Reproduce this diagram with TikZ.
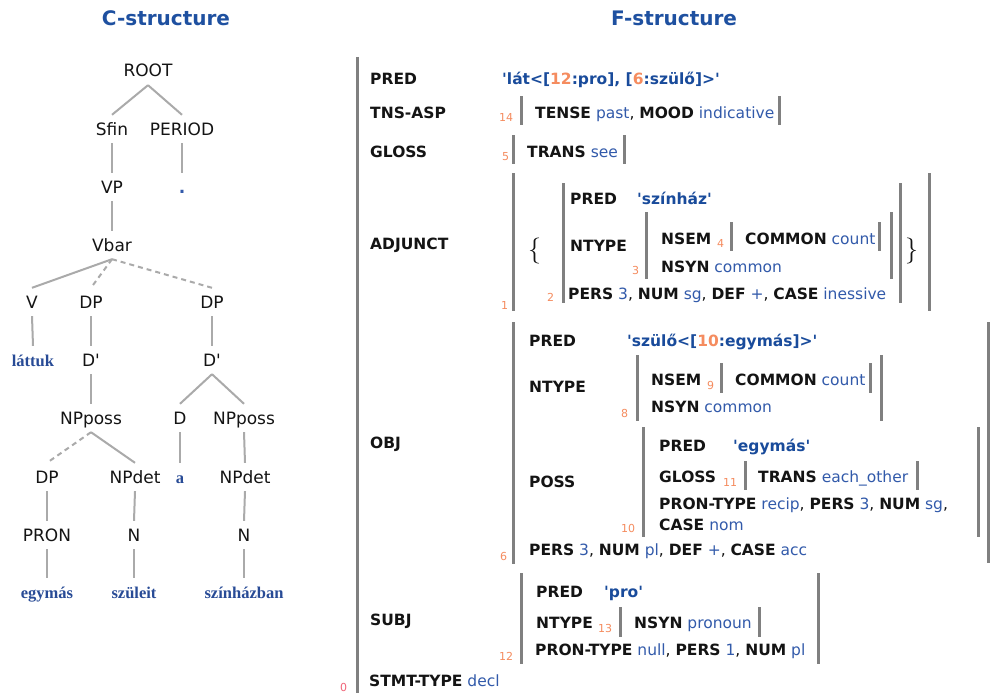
\documentclass[tikz,border=0pt]{standalone}
\usepackage{fontspec}
\usepackage{xcolor}
\newfontfamily\dvs{DejaVu Sans}
\newfontfamily\lserif{Liberation Serif}
\definecolor{titleblue}{RGB}{30,80,160}
\definecolor{predblue}{RGB}{25,75,155}
\definecolor{valblue}{RGB}{50,90,170}
\definecolor{wordblue}{RGB}{40,75,150}
\definecolor{idxorange}{RGB}{245,140,95}
\definecolor{zeropink}{RGB}{240,100,120}
\definecolor{bargray}{RGB}{128,128,128}
\definecolor{edgegray}{RGB}{170,170,170}
\definecolor{labelblack}{RGB}{20,20,20}
\newcommand\tfont{\dvs\fontsize{17}{19}\selectfont}
\newcommand\ffont{\dvs\fontsize{15.5}{18}\selectfont}
\newcommand\ifont{\dvs\fontsize{11}{12}\selectfont}
\newcommand\wfont{\lserif\bfseries\fontsize{16.5}{19}\selectfont}
\newcommand\K[1]{\textbf{#1}}
\newcommand\V[1]{\textcolor{valblue}{#1}}
\newcommand\Q{\textquotesingle}
\newcommand\IO[1]{\textcolor{idxorange}{#1}}
\tikzset{
  tl/.style={font=\tfont, text=labelblack, text height=12pt, text depth=0pt, inner ysep=8pt, inner xsep=0pt, anchor=base},
  tw/.style={tl, font=\wfont, text=wordblue},
  edge/.style={draw=edgegray, line width=2pt},
  dedge/.style={edge, dash pattern=on 5pt off 4pt},
  fl/.style={anchor=base west, inner sep=0pt, font=\ffont, text=labelblack},
  idx/.style={anchor=base west, inner sep=0pt, font=\ifont, text=idxorange},
  fbar/.style={draw=bargray, line width=3pt},
  ttl/.style={anchor=base, inner sep=0pt, font=\dvs\bfseries\fontsize{20}{24}\selectfont, text=titleblue},
  pv/.style={fl, text=predblue, font=\ffont\bfseries}
}
\begin{document}
\begin{tikzpicture}[x=1pt,y=-1pt]
\useasboundingbox[fill=white] (0,0) rectangle (992,693);
% titles
\node[ttl] (ctitle) at (166,26) {C-structure};
\node[ttl] (ftitle) at (674,26) {F-structure};
% ---------- C-structure tree ----------
\node[tl] (root) at (148,77) {ROOT};
\node[tl] (sfin) at (112,135) {Sfin};
\node[tl] (period) at (182,135) {PERIOD};
\node[tl] (vp) at (112,193) {VP};
\node[tl,text=valblue,font=\tfont\bfseries] (dot) at (182,193) {.};
\node[tl] (vbar) at (112,251) {Vbar};
\node[tl] (v) at (32,308) {V};
\node[tl] (dp1) at (91,308) {DP};
\node[tl] (dp2) at (212,308) {DP};
\node[tw] (lattuk) at (33,366) {láttuk};
\node[tl] (d1) at (91,366) {D\Q};
\node[tl] (d2) at (212,366) {D\Q};
\node[tl] (npp1) at (91,424) {NPposs};
\node[tl] (dd) at (180,424) {D};
\node[tl] (npp2) at (244,424) {NPposs};
\node[tl] (dp3) at (47,483) {DP};
\node[tl] (npd1) at (135,483) {NPdet};
\node[tw] (a) at (180,483) {a};
\node[tl] (npd2) at (245,483) {NPdet};
\node[tl] (pron) at (47,541) {PRON};
\node[tl] (n1) at (134,541) {N};
\node[tl] (n2) at (244,541) {N};
\node[tw] (egy) at (47,598) {egymás};
\node[tw] (szu) at (134,598) {szüleit};
\node[tw] (szi) at (244,598) {színházban};
\draw[edge] (root.south) -- (sfin.north);
\draw[edge] (root.south) -- (period.north);
\draw[edge] (sfin.south) -- (vp.north);
\draw[edge] (period.south) -- (dot.north);
\draw[edge] (vp.south) -- (vbar.north);
\draw[edge] (vbar.south) -- (v.north);
\draw[dedge] (vbar.south) -- (dp1.north);
\draw[dedge] (vbar.south) -- (dp2.north);
\draw[edge] (v.south) -- (lattuk.north);
\draw[edge] (dp1.south) -- (d1.north);
\draw[edge] (dp2.south) -- (d2.north);
\draw[edge] (d1.south) -- (npp1.north);
\draw[edge] (d2.south) -- (dd.north);
\draw[edge] (d2.south) -- (npp2.north);
\draw[dedge] (npp1.south) -- (dp3.north);
\draw[edge] (npp1.south) -- (npd1.north);
\draw[edge] (dd.south) -- (a.north);
\draw[edge] (npp2.south) -- (npd2.north);
\draw[edge] (dp3.south) -- (pron.north);
\draw[edge] (npd1.south) -- (n1.north);
\draw[edge] (npd2.south) -- (n2.north);
\draw[edge] (pron.south) -- (egy.north);
\draw[edge] (n1.south) -- (szu.north);
\draw[edge] (n2.south) -- (szi.north);
% ---------- F-structure ----------
\draw[fbar] (357,57) -- (357,693);
% PRED
\node[fl] (fpred) at (370,84) {\K{PRED}};
\node[pv] (fpredv) at (502,84) {\Q lát<[\IO{12}:pro], [\IO{6}:szülő]>\Q};
% TNS-ASP
\node[fl] (ftns) at (370,118) {\K{TNS-ASP}};
\node[idx] (i14) at (499,121) {14};
\draw[fbar] (521,96) -- (521,125);
\node[fl] (ftnsv) at (535,118) {\K{TENSE} \V{past}, \K{MOOD} \V{indicative}};
\draw[fbar] (779,96) -- (779,125);
% GLOSS
\node[fl] (fgloss) at (370,157) {\K{GLOSS}};
\node[idx] (i5) at (502,160) {5};
\draw[fbar] (513,135) -- (513,164);
\node[fl] (fglossv) at (527,157) {\K{TRANS} \V{see}};
\draw[fbar] (624,135) -- (624,164);
% ADJUNCT
\node[fl] (fadj) at (370,249) {\K{ADJUNCT}};
\node[idx] (i1) at (501,309) {1};
\draw[fbar] (513,173) -- (513,311);
\draw[fbar] (929,173) -- (929,311);
\node[anchor=base west, inner sep=0pt, font=\fontsize{26}{26}\selectfont, text=labelblack] (lbrace) at (528,257) {\{};
\node[anchor=base west, inner sep=0pt, font=\fontsize{26}{26}\selectfont, text=labelblack] (rbrace) at (905,257) {\}};
\draw[fbar] (563,183) -- (563,303);
\draw[fbar] (900,183) -- (900,303);
\node[fl] (apred) at (570,204) {\K{PRED}};
\node[pv] (apredv) at (637,204) {\Q színház\Q};
\node[fl] (antype) at (570,251) {\K{NTYPE}};
\node[idx] (i3) at (632,274) {3};
\draw[fbar] (646,212) -- (646,279);
\draw[fbar] (891,212) -- (891,279);
\node[fl] (ansem) at (661,244) {\K{NSEM}};
\node[idx] (i4) at (717,247) {4};
\draw[fbar] (731,222) -- (731,251);
\node[fl] (ansemv) at (745,244) {\K{COMMON} \V{count}};
\draw[fbar] (879,222) -- (879,251);
\node[fl] (ansyn) at (661,272) {\K{NSYN} \V{common}};
\node[idx] (i2) at (547,301) {2};
\node[fl] (apers) at (568,299) {\K{PERS} \V{3}, \K{NUM} \V{sg}, \K{DEF} \V{+}, \K{CASE} \V{inessive}};
% OBJ
\node[fl] (fobj) at (370,448) {\K{OBJ}};
\node[idx] (i6) at (500,560) {6};
\draw[fbar] (513,322) -- (513,564);
\draw[fbar] (988,322) -- (988,563);
\node[fl] (opred) at (529,346) {\K{PRED}};
\node[pv] (opredv) at (627,346) {\Q szülő<[\IO{10}:egymás]>\Q};
\node[fl] (ontype) at (529,392) {\K{NTYPE}};
\node[idx] (i8) at (621,417) {8};
\draw[fbar] (637,355) -- (637,421);
\draw[fbar] (881,355) -- (881,421);
\node[fl] (onsem) at (651,385) {\K{NSEM}};
\node[idx] (i9) at (707,389) {9};
\draw[fbar] (721,363) -- (721,393);
\node[fl] (onsemv) at (735,385) {\K{COMMON} \V{count}};
\draw[fbar] (870,363) -- (870,393);
\node[fl] (onsyn) at (651,412) {\K{NSYN} \V{common}};
\node[fl] (oposs) at (529,487) {\K{POSS}};
\node[idx] (i10) at (621,532) {10};
\draw[fbar] (643,427) -- (643,537);
\draw[fbar] (978,427) -- (978,537);
\node[fl] (ppred) at (659,451) {\K{PRED}};
\node[pv] (ppredv) at (733,451) {\Q egymás\Q};
\node[fl] (pgloss) at (659,482) {\K{GLOSS}};
\node[idx] (i11) at (723,486) {11};
\draw[fbar] (745,461) -- (745,490);
\node[fl] (pglossv) at (758,482) {\K{TRANS} \V{each\_other}};
\draw[fbar] (917,461) -- (917,490);
\node[fl] (ppron) at (659,509) {\K{PRON-TYPE} \V{recip}, \K{PERS} \V{3}, \K{NUM} \V{sg},};
\node[fl] (pcase) at (659,530) {\K{CASE} \V{nom}};
\node[fl] (opers) at (529,555) {\K{PERS} \V{3}, \K{NUM} \V{pl}, \K{DEF} \V{+}, \K{CASE} \V{acc}};
% SUBJ
\node[fl] (fsubj) at (370,625) {\K{SUBJ}};
\node[idx] (i12) at (499,660) {12};
\draw[fbar] (521,573) -- (521,664);
\draw[fbar] (818,573) -- (818,664);
\node[fl] (spred) at (536,597) {\K{PRED}};
\node[pv] (spredv) at (604,597) {\Q pro\Q};
\node[fl] (sntype) at (536,628) {\K{NTYPE}};
\node[idx] (i13) at (598,632) {13};
\draw[fbar] (620,607) -- (620,637);
\node[fl] (sntypev) at (634,628) {\K{NSYN} \V{pronoun}};
\draw[fbar] (759,607) -- (759,637);
\node[fl] (spron) at (535,655) {\K{PRON-TYPE} \V{null}, \K{PERS} \V{1}, \K{NUM} \V{pl}};
% STMT-TYPE
\node[fl] (fstmt) at (369,686) {\K{STMT-TYPE} \V{decl}};
\node[idx, text=zeropink] (i0) at (340,691) {0};
\end{tikzpicture}
\end{document}
